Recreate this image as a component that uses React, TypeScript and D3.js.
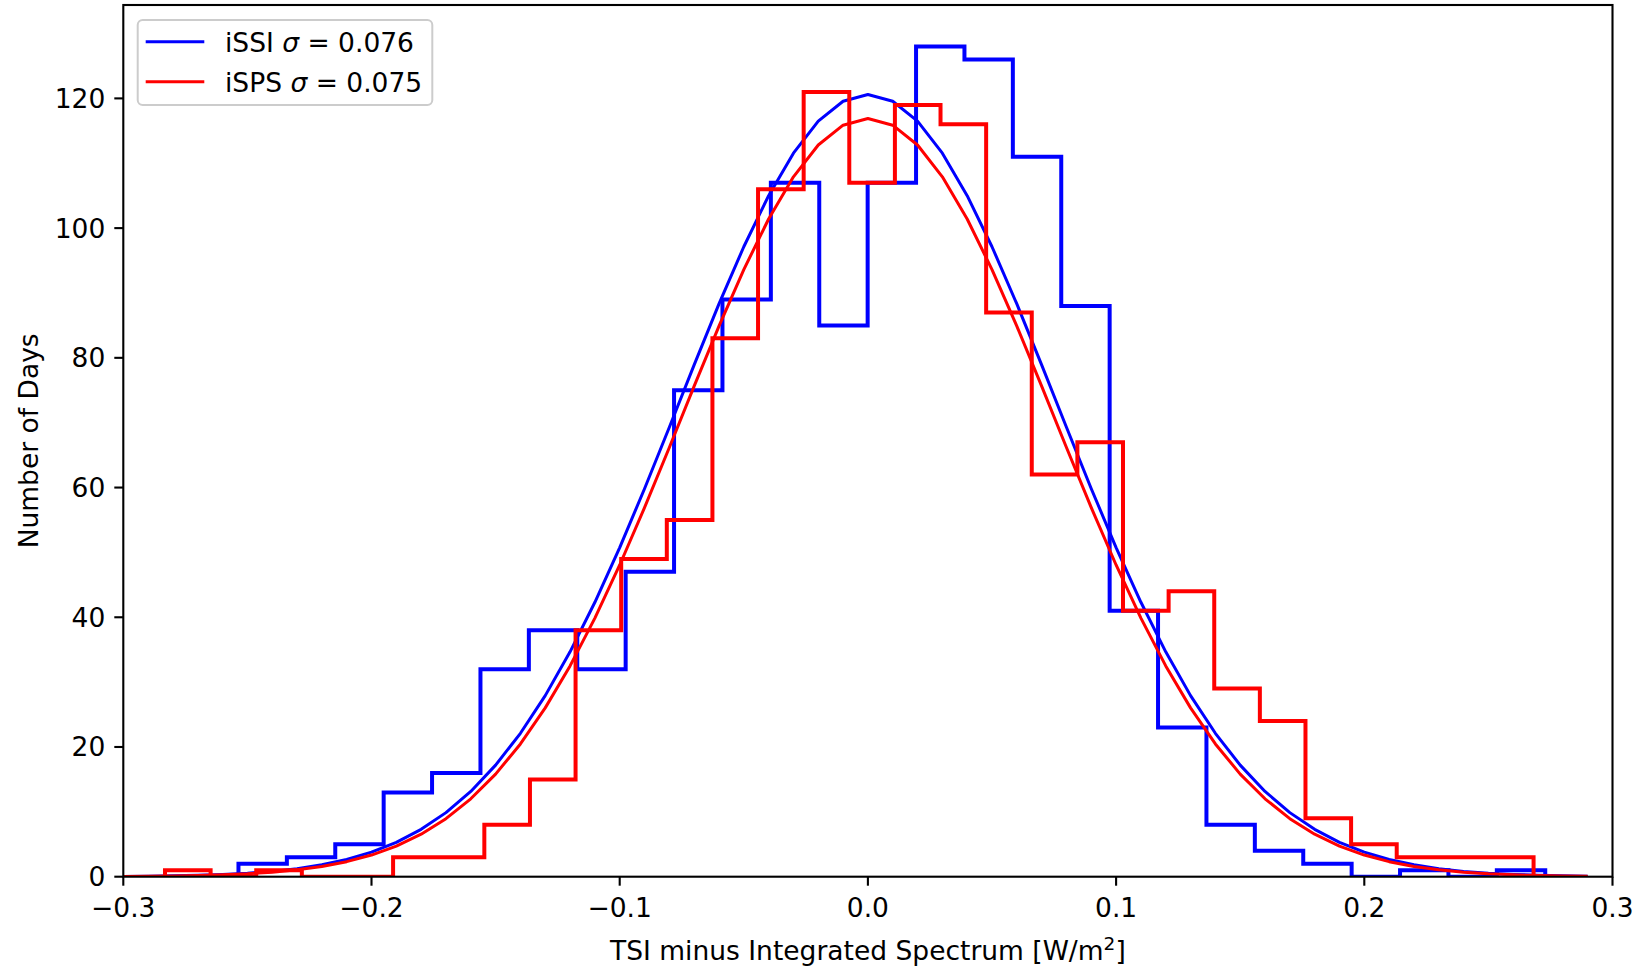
import React from 'react';
import * as d3 from 'd3';

const xTicks = [-0.3, -0.2, -0.1, 0.0, 0.1, 0.2, 0.3];
const yTicks = [0, 20, 40, 60, 80, 100, 120];

const blueStart = -0.2536;
const blueWidth = 0.0195;
const blueCounts = [2, 3, 5, 13, 16, 32, 38, 32, 47, 75, 89, 107, 85, 107, 128, 126, 111, 88, 41, 23, 8, 4, 2, 0, 1, 0, 1];

const redStart = -0.2832;
const redWidth = 0.01838;
const redCounts = [1, 0, 1, 0, 0, 3, 3, 8, 15, 38, 49, 55, 83, 106, 121, 107, 119, 116, 87, 62, 67, 41, 44, 29, 24, 9, 5, 3, 3, 3];

const fitX = [
  -0.30, -0.29, -0.28, -0.27, -0.26, -0.25, -0.24, -0.23, -0.22, -0.21,
  -0.20, -0.19, -0.18, -0.17, -0.16, -0.15, -0.14, -0.13, -0.12, -0.11,
  -0.10, -0.09, -0.08, -0.07, -0.06, -0.05, -0.04, -0.03, -0.02, -0.01,
  0.00, 0.01, 0.02, 0.03, 0.04, 0.05, 0.06, 0.07, 0.08, 0.09,
  0.10, 0.11, 0.12, 0.13, 0.14, 0.15, 0.16, 0.17, 0.18, 0.19,
  0.20, 0.21, 0.22, 0.23, 0.24, 0.25, 0.26, 0.27, 0.28, 0.29,
];
const blueFit = [
  0.05, 0.08, 0.14, 0.22, 0.35, 0.54, 0.82, 1.24, 1.83, 2.65,
  3.78, 5.30, 7.30, 9.88, 13.15, 17.20, 22.11, 27.92, 34.67, 42.31,
  50.74, 59.82, 69.30, 78.91, 88.31, 97.13, 105.00, 111.56, 116.50, 119.56,
  120.6, 119.56, 116.50, 111.56, 105.00, 97.13, 88.31, 78.91, 69.30, 59.82,
  50.74, 42.31, 34.67, 27.92, 22.11, 17.20, 13.15, 9.88, 7.30, 5.30,
  3.78, 2.65, 1.83, 1.24, 0.82, 0.54, 0.35, 0.22, 0.14, 0.08,
];
const redFit = [
  0.04, 0.07, 0.11, 0.18, 0.29, 0.45, 0.70, 1.06, 1.58, 2.32,
  3.34, 4.72, 6.56, 8.95, 12.01, 15.82, 20.47, 26.03, 32.50, 39.87,
  48.06, 56.90, 66.18, 75.63, 84.89, 93.61, 101.40, 107.91, 112.82, 115.87,
  116.9, 115.87, 112.82, 107.91, 101.40, 93.61, 84.89, 75.63, 66.18, 56.90,
  48.06, 39.87, 32.50, 26.03, 20.47, 15.82, 12.01, 8.95, 6.56, 4.72,
  3.34, 2.32, 1.58, 1.06, 0.70, 0.45, 0.29, 0.18, 0.11, 0.07,
];

const legendItems = [
  { name: 'iSSI', sigma: '0.076', color: '#0000ff' },
  { name: 'iSPS', sigma: '0.075', color: '#ff0000' },
];

const W = 1636;
const H = 968;
const FONT = 'DejaVu Sans';
const FS = 26.5;

function stepPoints(start: number, width: number, counts: number[]): [number, number][] {
  const pts: [number, number][] = [];
  const edges = d3.range(counts.length + 1).map((i) => start + i * width);
  pts.push([edges[0], 0]);
  counts.forEach((c, i) => {
    pts.push([edges[i], c]);
    pts.push([edges[i + 1], c]);
  });
  pts.push([edges[counts.length], 0]);
  return pts;
}

export default function App() {
  const x = d3.scaleLinear().domain([-0.3, 0.3]).range([123.3, 1612.5]);
  const y = d3.scaleLinear().domain([0, 134.4]).range([876.7, 5]);
  const line = d3
    .line<[number, number]>()
    .x((d) => x(d[0]))
    .y((d) => y(d[1]));

  const blueStep = line(stepPoints(blueStart, blueWidth, blueCounts)) || '';
  const redStep = line(stepPoints(redStart, redWidth, redCounts)) || '';
  const blueCurve = line(fitX.map((v, i) => [v, blueFit[i]] as [number, number])) || '';
  const redCurve = line(fitX.map((v, i) => [v, redFit[i]] as [number, number])) || '';

  const [x0, x1] = x.range();
  const [y0, y1] = y.range();
  const fmtX = (v: number) => (v < 0 ? '\u2212' : '') + Math.abs(v).toFixed(1);

  return (
    <svg
      width={W}
      height={H}
      style={{ position: 'absolute', left: 0, top: 0, background: '#fff' }}
      fontFamily={FONT}
    >
      <rect x={0} y={0} width={W} height={H} fill="#fff" />
      <defs>
        <clipPath id="plotclip">
          <rect x={x0} y={y1} width={x1 - x0} height={y0 - y1} />
        </clipPath>
      </defs>
      <g clipPath="url(#plotclip)" fill="none" strokeLinejoin="miter">
        <path d={blueStep} stroke="#0000ff" strokeWidth={4} />
        <path d={blueCurve} stroke="#0000ff" strokeWidth={3} strokeLinejoin="round" />
        <path d={redStep} stroke="#ff0000" strokeWidth={4} />
        <path d={redCurve} stroke="#ff0000" strokeWidth={3} strokeLinejoin="round" />
      </g>
      {/* spines */}
      <rect x={x0} y={y1} width={x1 - x0} height={y0 - y1} fill="none" stroke="#000" strokeWidth={2.1} />
      {/* x ticks */}
      {xTicks.map((t) => (
        <g key={'xt' + t}>
          <line x1={x(t)} x2={x(t)} y1={y0} y2={y0 + 9} stroke="#000" strokeWidth={2.1} />
          <text x={x(t)} y={917} textAnchor="middle" fontSize={FS} fill="#000">
            {fmtX(t)}
          </text>
        </g>
      ))}
      {/* y ticks */}
      {yTicks.map((t) => (
        <g key={'yt' + t}>
          <line x1={x0 - 9} x2={x0} y1={y(t)} y2={y(t)} stroke="#000" strokeWidth={2.1} />
          <text x={x0 - 18} y={y(t) + 9.5} textAnchor="end" fontSize={FS} fill="#000">
            {t}
          </text>
        </g>
      ))}
      {/* axis labels */}
      <text x={(x0 + x1) / 2} y={960} textAnchor="middle" fontSize={FS} fill="#000">
        TSI minus Integrated Spectrum [W/m
        <tspan fontSize={18.5} dy={-10}>2</tspan>
        <tspan dy={10}>]</tspan>
      </text>
      <text
        transform={`translate(37.5, ${(y0 + y1) / 2}) rotate(-90)`}
        textAnchor="middle"
        fontSize={FS}
        fill="#000"
      >
        Number of Days
      </text>
      {/* legend */}
      <rect x={137.7} y={20} width={294.6} height={85} rx={5} ry={5} fill="#fff" fillOpacity={0.8} stroke="#cccccc" strokeWidth={2} />
      {legendItems.map((it, i) => (
        <g key={it.name}>
          <line x1={145.7} x2={204.3} y1={41.7 + i * 40} y2={41.7 + i * 40} stroke={it.color} strokeWidth={3} />
          <text x={225} y={52 + i * 40} fontSize={FS} fill="#000">
            {it.name + ' '}
            <tspan fontStyle="italic">σ</tspan>
            {' = ' + it.sigma}
          </text>
        </g>
      ))}
    </svg>
  );
}
